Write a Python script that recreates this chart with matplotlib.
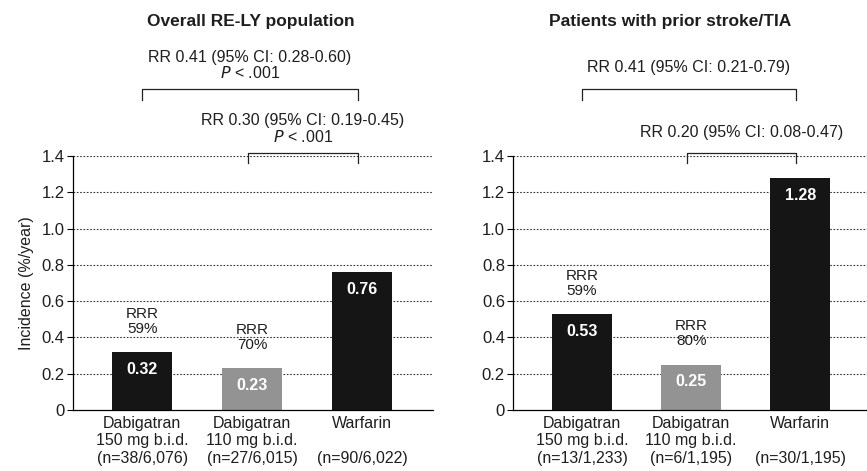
import numpy as np
import matplotlib.pyplot as plt

plt.rcParams['font.family'] = ['Liberation Sans', 'DejaVu Sans']

categories = ["Dabigatran\n150 mg b.i.d.", "Dabigatran\n110 mg b.i.d.", "Warfarin\n"]
left_title = "Overall RE-LY population"
left_vals = [0.32, 0.23, 0.76]
left_n = ["(n=38/6,076)", "(n=27/6,015)", "(n=90/6,022)"]
left_rrr = ["RRR\n59%", "RRR\n70%", None]
left_rr = ["RR 0.41 (95% CI: 0.28-0.60)", "RR 0.30 (95% CI: 0.19-0.45)"]
left_p = ["$P$ < .001", "$P$ < .001"]

right_title = "Patients with prior stroke/TIA"
right_vals = [0.53, 0.25, 1.28]
right_n = ["(n=13/1,233)", "(n=6/1,195)", "(n=30/1,195)"]
right_rrr = ["RRR\n59%", "RRR\n80%", None]
right_rr = ["RR 0.41 (95% CI: 0.21-0.79)", "RR 0.20 (95% CI: 0.08-0.47)"]
right_p = [None, None]

bar_colors = ["#151515", "#939393", "#151515"]
yticks = [0, 0.2, 0.4, 0.6, 0.8, 1.0, 1.2, 1.4]

fig = plt.figure(figsize=(8.67, 4.71), dpi=100)
ax1 = fig.add_axes([0.084, 0.1295, 0.415, 0.539])
ax2 = fig.add_axes([0.592, 0.1295, 0.408, 0.539])

TXT = "#1e1e1e"


def draw_panel(ax, title, vals, ns, rrr, rr, ps, xlim_right, title_x, rr_y):
    x = np.arange(len(vals))
    for yv in yticks[1:]:
        ax.axhline(yv, color="#333333", lw=0.8, ls=(0, (1.5, 1.5)), zorder=1)
    ax.bar(x, vals, width=0.55, color=bar_colors, zorder=2)
    for xi, v, r in zip(x, vals, rrr):
        ax.text(xi, v - 0.095, f"{v:.2f}", color="white", ha="center", va="center",
                fontsize=11.5, fontweight="bold", zorder=3)
        if r:
            ax.text(xi, v + 0.17, r, ha="center", va="center", fontsize=11,
                    linespacing=1.1, color=TXT)
    ax.set_xlim(-0.63, xlim_right)
    ax.set_ylim(0, 1.4)
    ax.set_yticks(yticks)
    ax.set_yticklabels(["0", "0.2", "0.4", "0.6", "0.8", "1.0", "1.2", "1.4"], fontsize=12, color=TXT)
    ax.set_xticks(x)
    labels = [c + "\n" + n for c, n in zip(categories, ns)]
    ax.set_xticklabels(labels, fontsize=11.5, linespacing=1.22, color=TXT)
    ax.tick_params(axis="x", length=0, pad=4)
    ax.tick_params(axis="y", direction="out", length=4, width=0.8, pad=2)
    for s in ["top", "right"]:
        ax.spines[s].set_visible(False)
    ax.spines["left"].set_linewidth(0.9)
    ax.spines["bottom"].set_linewidth(0.9)

    # brackets
    ax.plot([0, 0, 1.96, 1.96], [1.709, 1.772, 1.772, 1.709], color="#222222", lw=0.9, clip_on=False)
    ax.plot([0.96, 0.96, 1.96, 1.96], [1.362, 1.417, 1.417, 1.362], color="#222222", lw=0.9, clip_on=False)

    if ps[0]:
        ax.text(0.98, 1.946, rr[0], ha="center", va="center", fontsize=11.5, color=TXT)
        ax.text(0.98, 1.858, ps[0], ha="center", va="center", fontsize=11.5, color=TXT)
    else:
        ax.text(0.98, rr_y[0], rr[0], ha="center", va="center", fontsize=11.5, color=TXT)
    if ps[1]:
        ax.text(1.46, 1.599, rr[1], ha="center", va="center", fontsize=11.5, color=TXT)
        ax.text(1.46, 1.505, ps[1], ha="center", va="center", fontsize=11.5, color=TXT)
    else:
        ax.text(1.46, rr_y[1], rr[1], ha="center", va="center", fontsize=11.5, color=TXT)

    ax.text(title_x, 2.145, title, ha="center", va="center", fontsize=12.5, fontweight="bold", color=TXT)


draw_panel(ax1, left_title, left_vals, left_n, left_rrr, left_rr, left_p, 2.64, 0.99, None)
draw_panel(ax2, right_title, right_vals, right_n, right_rrr, right_rr, right_p, 2.61, 0.81, [1.89, 1.532])

ax1.set_ylabel("Incidence (%/year)", fontsize=11.5, labelpad=5, color=TXT)

fig.savefig("out.png", dpi=100)
